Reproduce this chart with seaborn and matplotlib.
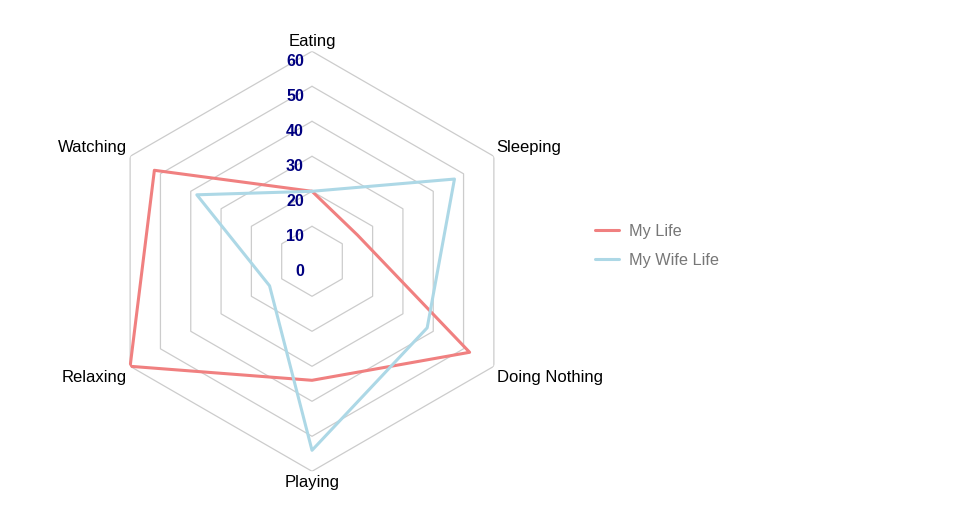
import numpy as np
import pandas as pd
import matplotlib
matplotlib.use("Agg")
import matplotlib.pyplot as plt
import seaborn as sns

# chart data
categories = ["Eating", "Sleeping", "Doing Nothing", "Playing", "Relaxing", "Watching"]
my_life = [20, 15, 52, 34, 60, 52]
my_wife_life = [20, 47, 38, 54, 14, 38]
series_names = ["My Life", "My Wife Life"]
ring_values = [10, 20, 30, 40, 50, 60]
tick_labels = ["0", "10", "20", "30", "40", "50", "60"]

sns.set_style("white")
plt.rcParams["font.family"] = ["Liberation Sans", "DejaVu Sans"]

colors = {"My Life": "#F08080", "My Wife Life": "#ADD8E6"}

n = len(categories)
angles = np.arange(n) * 2 * np.pi / n
angles_closed = np.append(angles, angles[0])

# long-form frame, closed polygons
rows = []
for name, vals in zip(series_names, [my_life, my_wife_life]):
    vals_closed = list(vals) + [vals[0]]
    for i, (a, v) in enumerate(zip(angles_closed, vals_closed)):
        rows.append({"series": name, "order": i, "theta": a, "value": v})
df = pd.DataFrame(rows)

fig = plt.figure(figsize=(9.66, 5.22), dpi=100)
cx, cy, rad = 312, 522 - 261.3, 210
ax = fig.add_axes([(cx - rad) / 966, (cy - rad) / 522, 2 * rad / 966, 2 * rad / 522],
                  projection="polar")
ax.set_theta_offset(np.pi / 2)
ax.set_theta_direction(-1)
ax.set_ylim(0, 60)
ax.axis("off")

# hexagonal grid (rings only, no spokes)
for r in ring_values:
    ax.plot(angles_closed, [r] * len(angles_closed), color="#CCCCCC", lw=0.9, zorder=1)

# series
sns.lineplot(data=df, x="theta", y="value", hue="series", palette=colors,
             sort=False, estimator=None, units="series", lw=2.2, ax=ax,
             legend=False, zorder=3)

# radial tick labels
for i, lab in enumerate(tick_labels):
    ax.annotate(lab, xy=(0, i * 10), xytext=(-5.8, -7.6), textcoords="offset points",
                ha="right", va="center", color="#000080", fontsize=11.5,
                fontweight="bold", zorder=4)

# category labels
placement = [
    ("center", "bottom", (0, 1.5)),
    ("left", "bottom", (1.5, 1.2)),
    ("left", "top", (2, -3)),
    ("center", "top", (0, -2.5)),
    ("right", "top", (-2.5, -3)),
    ("right", "bottom", (-2.5, 1.2)),
]
for a, cat, (ha, va, off) in zip(angles, categories, placement):
    ax.annotate(cat, xy=(a, 60), xytext=off, textcoords="offset points",
                ha=ha, va=va, fontsize=12, color="black")

# legend
handles = [plt.Line2D([], [], color=colors[s], lw=2.2) for s in series_names]
fig.legend(handles, series_names, loc="center left",
           bbox_to_anchor=(580 / 966, 1 - 246 / 522), frameon=False,
           fontsize=11.7, labelcolor="#777777", handlelength=1.5,
           handletextpad=0.6, labelspacing=0.85)

fig.savefig("out.png", dpi=100)
